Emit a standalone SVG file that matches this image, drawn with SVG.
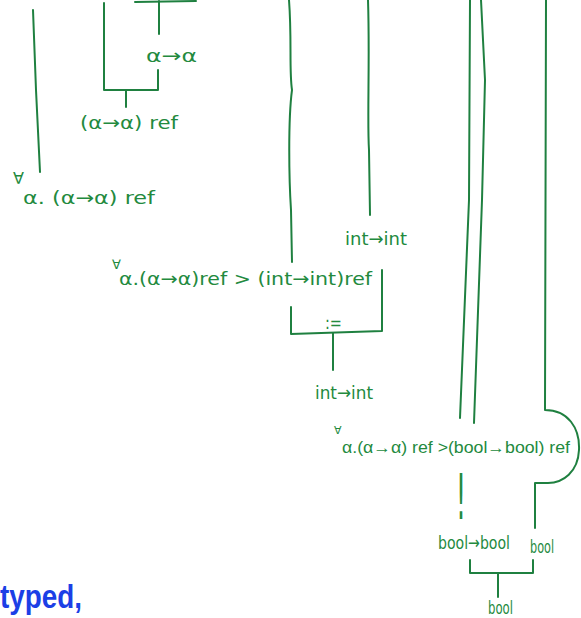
<svg xmlns="http://www.w3.org/2000/svg" width="581" height="618" viewBox="0 0 581 618">
<style>
.c{fill:none;stroke:#1f8040;stroke-width:2;stroke-linecap:round;stroke-linejoin:round}
.t{fill:#238a3e;font-family:"DejaVu Sans","Liberation Sans",sans-serif;font-size:18px}
.q{font-size:13px}
.n{font-family:"Liberation Sans","DejaVu Sans",sans-serif;font-size:16px}
.bang{font-size:62px}
.b{fill:#1c3fe6;font-family:"Liberation Sans",sans-serif;font-size:34px;font-weight:bold}
</style>
<rect width="581" height="618" fill="#ffffff"/>
<g id="connectors">
<path class="c" d="M33,10 L36,90 L40,172"/>
<path class="c" d="M104,3 L104,90 L158,90 L158,70"/>
<path class="c" d="M126,90 L126,107"/>
<path class="c" d="M135,2 L196,1"/>
<path class="c" d="M159,1 L159,34"/>
<path class="c" d="M289,0 C292,40 289,70 292,90 C288,120 289,180 291,210 L292,262"/>
<path class="c" d="M368,0 C370,60 367,120 369,150 L370,215"/>
<path class="c" d="M382,270 L382,331 L291,334 L291,307"/>
<path class="c" d="M333,333 L333,370"/>
<path class="c" d="M470,0 L469,200 L460,418"/>
<path class="c" d="M481,0 L485,80 L482,200 L474,423"/>
<path class="c" d="M546,0 L545,410 C568,410 580,428 579,450 C578,472 563,483 548,483 L535,483 L535,528"/>
<path class="c" d="M470,560 L470,573 L533,573 L533,560"/>
<path class="c" d="M498,573 L498,597"/>
</g>
<g id="n1"><text class="t" x="146" y="62" textLength="51" lengthAdjust="spacingAndGlyphs">α→α</text></g>
<g id="n2"><text class="t" x="80" y="129" textLength="98" lengthAdjust="spacingAndGlyphs">(α→α) ref</text></g>
<g id="n3"><text class="t"><tspan style="font-size:16px" x="13" y="184">∀</tspan><tspan x="23" y="204" textLength="132" lengthAdjust="spacingAndGlyphs">α. (α→α) ref</tspan></text></g>
<g id="n4"><text class="t" x="345" y="245" textLength="62" lengthAdjust="spacingAndGlyphs">int→int</text></g>
<g id="n5"><text class="t"><tspan class="q" x="112" y="269">∀</tspan><tspan x="119" y="285" textLength="253" lengthAdjust="spacingAndGlyphs">α.(α→α)ref &gt; (int→int)ref</tspan></text></g>
<g id="n6"><text class="t" x="325" y="329" textLength="17" lengthAdjust="spacingAndGlyphs">:=</text></g>
<g id="n7"><text class="t" x="315" y="399" textLength="58" lengthAdjust="spacingAndGlyphs">int→int</text></g>
<g id="n8"><text class="t n"><tspan style="font-size:11px" x="334" y="434">∀</tspan><tspan x="342" y="453" textLength="228" lengthAdjust="spacingAndGlyphs">α.(α→α) ref &gt;(bool→bool) ref</tspan></text></g>
<g id="n9"><text class="t bang" transform="translate(461,519) scale(0.4,1)" x="0" y="0" text-anchor="middle">!</text></g>
<g id="n10"><text class="t" x="438" y="549" textLength="72" lengthAdjust="spacingAndGlyphs">bool→bool</text></g>
<g id="n11"><text class="t" x="530" y="553" textLength="24" lengthAdjust="spacingAndGlyphs">bool</text></g>
<g id="n12"><text class="t" x="488" y="614" textLength="25" lengthAdjust="spacingAndGlyphs">bool</text></g>
<g id="n13"><text class="b" x="0" y="608" textLength="82" lengthAdjust="spacingAndGlyphs">typed,</text></g>
</svg>
